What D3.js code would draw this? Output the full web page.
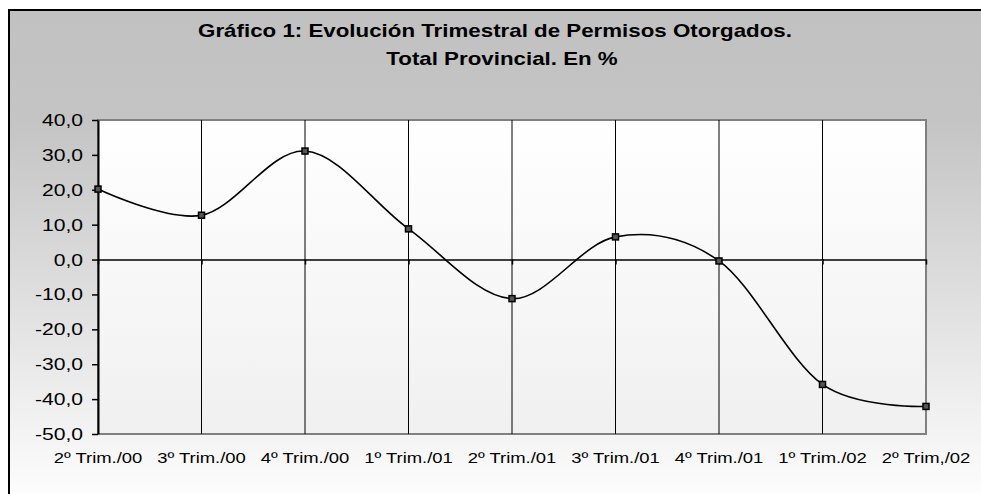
<!DOCTYPE html>
<meta charset="utf-8">
<head>
    <title>Evolución Trimestral de Permisos Otorgados</title>
    <style>
        body { margin: 0; background: #ffffff; }
        text { font-family: "Liberation Sans", Arial, sans-serif; fill: #000; }
    </style>
</head>
<body>
    <script src="https://cdn.jsdelivr.net/npm/d3@7"></script>
    <script>
        // chart data
        var quarters = ["2º Trim./00", "3º Trim./00", "4º Trim./00", "1º Trim./01", "2º Trim./01",
                        "3º Trim./01", "4º Trim./01", "1º Trim./02", "2º Trim,/02"];
        var values = [20.2, 12.7, 31.1, 8.8, -11.2, 6.5, -0.4, -35.8, -42.1];
        var yTicks = [-50, -40, -30, -20, -10, 0, 10, 20, 30, 40];
        var titleLines = ["Gráfico 1: Evolución Trimestral de Permisos Otorgados.", "Total Provincial. En %"];

        var width = 981, height = 494;
        var plot = {left: 98, right: 926, top: 120, bottom: 434};

        var svg = d3.select("body").append("svg")
            .attr("width", width)
            .attr("height", height);

        var defs = svg.append("defs");
        var bgGrad = defs.append("linearGradient").attr("id", "bgGrad")
            .attr("x1", 0).attr("y1", 0).attr("x2", 0).attr("y2", 1);
        bgGrad.append("stop").attr("offset", "0%").attr("stop-color", "#c1c1c1");
        bgGrad.append("stop").attr("offset", "22%").attr("stop-color", "#c4c4c4");
        bgGrad.append("stop").attr("offset", "100%").attr("stop-color", "#ffffff");

        var plotGrad = defs.append("linearGradient").attr("id", "plotGrad")
            .attr("x1", 0).attr("y1", 0).attr("x2", 0).attr("y2", 1);
        plotGrad.append("stop").attr("offset", "0%").attr("stop-color", "#ffffff");
        plotGrad.append("stop").attr("offset", "100%").attr("stop-color", "#f0f0f0");

        // chart area with black frame (right/bottom edges fall outside the picture)
        svg.append("rect")
            .attr("x", 9).attr("y", 10)
            .attr("width", 1000).attr("height", 500)
            .style("fill", "url(#bgGrad)")
            .style("stroke", "#000")
            .style("stroke-width", 2);

        // title
        var titleX = [495, 502];
        var title = svg.append("g");
        titleLines.forEach(function(t, i) {
            title.append("text")
                .attr("transform", "translate(" + titleX[i] + "," + (37 + i * 28) + ") scale(1.24,1)")
                .attr("text-anchor", "middle")
                .style("font-size", "18px")
                .style("font-weight", "bold")
                .text(t);
        });

        // scales
        var x = d3.scalePoint().domain(quarters).range([plot.left, plot.right]);
        var y = d3.scaleLinear().domain([-50, 40]).range([plot.bottom, plot.top]);

        // plot area
        svg.append("rect")
            .attr("x", plot.left).attr("y", plot.top)
            .attr("width", plot.right - plot.left).attr("height", plot.bottom - plot.top)
            .style("fill", "url(#plotGrad)")
            .style("stroke", "#808080")
            .style("stroke-width", 2);

        // vertical gridlines
        svg.append("g").selectAll("line")
            .data(quarters.slice(1, -1))
            .enter().append("line")
            .attr("x1", d => x(d)).attr("x2", d => x(d))
            .attr("y1", plot.top).attr("y2", plot.bottom)
            .style("stroke", "#000")
            .style("stroke-width", 1);

        // horizontal axis at zero with ticks below
        var zeroAxis = svg.append("g")
            .attr("transform", "translate(0," + y(0) + ")")
            .call(d3.axisBottom(x).tickSize(5).tickSizeOuter(0).tickFormat(""));
        zeroAxis.select(".domain").style("stroke", "#000").style("stroke-width", 1.5);
        zeroAxis.selectAll(".tick line").style("stroke", "#000").style("stroke-width", 1.5);

        // category labels along the bottom
        svg.append("g").selectAll("text")
            .data(quarters)
            .enter().append("text")
            .attr("transform", d => "translate(" + x(d) + ",463) scale(1.23,1)")
            .attr("text-anchor", "middle")
            .style("font-size", "15px")
            .text(d => d);

        // y axis
        var fmt = d3.formatLocale({decimal: ",", thousands: ".", grouping: [3], currency: ["", "€"]}).format(".1f");
        var yAxis = svg.append("g")
            .attr("transform", "translate(" + plot.left + ",0)")
            .call(d3.axisLeft(y).tickValues(yTicks).tickSize(6).tickSizeOuter(0).tickFormat(""));
        yAxis.select(".domain").style("stroke", "#000").style("stroke-width", 2);
        yAxis.selectAll(".tick line").style("stroke", "#000").style("stroke-width", 1.5);

        svg.append("g").selectAll("text")
            .data(yTicks)
            .enter().append("text")
            .attr("transform", d => "translate(83," + (y(d) + 6) + ") scale(1.32,1)")
            .attr("text-anchor", "end")
            .style("font-size", "16px")
            .text(d => fmt(d).replace("−", "-"));

        // smoothed line
        var line = d3.line()
            .x((d, i) => x(quarters[i]))
            .y(d => y(d))
            .curve(d3.curveCardinal.tension(0));

        svg.append("path")
            .datum(values)
            .attr("d", line)
            .style("fill", "none")
            .style("stroke", "#000")
            .style("stroke-width", 1.6);

        // square markers
        svg.append("g").selectAll("rect")
            .data(values)
            .enter().append("rect")
            .attr("x", (d, i) => x(quarters[i]) - 3)
            .attr("y", d => y(d) - 3)
            .attr("width", 6).attr("height", 6)
            .style("fill", "#555")
            .style("stroke", "#000")
            .style("stroke-width", 1.5);
    </script>
</body>
</html>
